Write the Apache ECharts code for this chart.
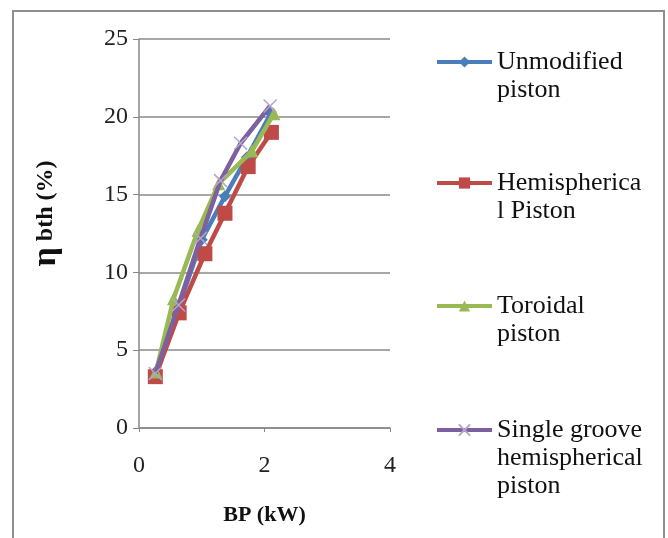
<!DOCTYPE html>
<html>
<head>
<meta charset="utf-8">
<script src="https://cdn.jsdelivr.net/npm/echarts@6/dist/echarts.min.js"></script>
<style>html,body{margin:0;padding:0;background:#fff;}#c{width:668px;height:538px;}</style>
</head>
<body>
<div id="c"></div>
<script>
// Data
const seriesNames = ['Unmodified piston', 'Hemispherical Piston', 'Toroidal piston', 'Single groove hemispherical piston'];
const legendLabels = ['Unmodified\npiston', 'Hemispherica\nl Piston', 'Toroidal\npiston', 'Single groove\nhemispherical\npiston'];
const unmodifiedBP = [0.26, 0.65, 1.0, 1.37, 1.72, 2.1];
const unmodifiedEta = [3.6, 8.0, 12.1, 14.9, 17.4, 20.2];
const hemiBP = [0.26, 0.64, 1.05, 1.37, 1.74, 2.11];
const hemiEta = [3.3, 7.4, 11.2, 13.8, 16.8, 19.0];
const toroidalBP = [0.27, 0.55, 0.94, 1.27, 1.8, 2.15];
const toroidalEta = [3.6, 8.3, 12.7, 15.7, 17.8, 20.2];
const grooveBP = [0.26, 0.63, 0.98, 1.3, 1.62, 2.09];
const grooveEta = [3.5, 7.9, 12.2, 15.9, 18.3, 20.7];
const xTicks = [0, 2, 4];
const yTicks = [0, 5, 10, 15, 20, 25];

const colors = ['#4A7EBB', '#BE4B48', '#98B954', '#7D60A0'];
const serif = '"Liberation Serif", "Times New Roman", serif';

function pairs(xs, ys) { return xs.map((x, i) => [x, ys[i]]); }

const seriesData = [
  pairs(unmodifiedBP, unmodifiedEta),
  pairs(hemiBP, hemiEta),
  pairs(toroidalBP, toroidalEta),
  pairs(grooveBP, grooveEta)
];
const symbols = ['diamond', 'rect', 'triangle', 'path://M0,0L10,10M10,0L0,10'];
const symbolSizes = [12, 15, 13, 13];

const series = seriesData.map((d, i) => ({
  name: seriesNames[i],
  type: 'line',
  data: d,
  symbol: symbols[i],
  symbolSize: symbolSizes[i],
  showAllSymbol: true,
  lineStyle: { color: colors[i], width: 4.5 },
  itemStyle: i === 3
    ? { color: 'rgba(0,0,0,0)', borderColor: '#B3A6C8', borderWidth: 1.5 }
    : { color: colors[i], borderColor: colors[i], borderWidth: 0 },
  emphasis: { disabled: true },
  animation: false,
  z: 2 + i
}));

// legend: first text line aligned with the icon, via leading blank lines
const legendTops = [20, 141, 264, 360];
const legends = seriesNames.map((n, i) => {
  const lines = legendLabels[i].split('\n').length;
  return {
    data: [n],
    orient: 'vertical',
    left: 435,
    top: legendTops[i],
    padding: 0,
    itemWidth: 55,
    itemHeight: 14,
    itemGap: 0,
    selectedMode: false,
    lineStyle: { width: 4 },
    textStyle: { fontFamily: serif, fontSize: 26, color: '#111', lineHeight: 28 },
    formatter: () => '\n'.repeat(lines - 1) + legendLabels[i]
  };
});

const chart = echarts.init(document.getElementById('c'), null, { renderer: 'canvas' });
chart.setOption({
  backgroundColor: '#ffffff',
  animation: false,
  graphic: [{
    type: 'rect',
    shape: { x: 13, y: 11, width: 651, height: 540 },
    style: { fill: 'none', stroke: '#8f8f8f', lineWidth: 2 },
    silent: true
  }],
  grid: { left: 139, right: 278, top: 39, bottom: 110, containLabel: false },
  legend: legends,
  xAxis: {
    type: 'value',
    min: xTicks[0], max: xTicks[xTicks.length - 1], interval: 2,
    name: 'BP (kW)',
    nameLocation: 'middle',
    nameGap: 76,
    nameTextStyle: { fontFamily: serif, fontSize: 22, fontWeight: 'bold', color: '#111' },
    axisLine: { show: true, onZero: false, lineStyle: { color: '#888', width: 1.5 } },
    axisTick: { show: true, inside: false, length: 4, lineStyle: { color: '#888' } },
    axisLabel: { fontFamily: serif, fontSize: 24, color: '#222', margin: 26 },
    splitLine: { show: false }
  },
  yAxis: {
    type: 'value',
    min: yTicks[0], max: yTicks[yTicks.length - 1], interval: 5,
    name: '{eta|η} bth (%)',
    nameLocation: 'middle',
    nameGap: 76,
    nameRotate: 90,
    nameTextStyle: {
      fontFamily: serif, fontSize: 24, fontWeight: 'bold', color: '#111',
      padding: [0, 0, 0, 40],
      rich: { eta: { fontFamily: serif, fontSize: 34, fontWeight: 'bold', color: '#111' } }
    },
    axisLine: { show: true, lineStyle: { color: '#888', width: 1.5 } },
    axisTick: { show: true, inside: false, length: 6, lineStyle: { color: '#888' } },
    axisLabel: { fontFamily: serif, fontSize: 24, color: '#222', margin: 11 },
    splitLine: { show: true, lineStyle: { color: '#8a8a8a', width: 1.5 } }
  },
  series: series
});
</script>
</body>
</html>
